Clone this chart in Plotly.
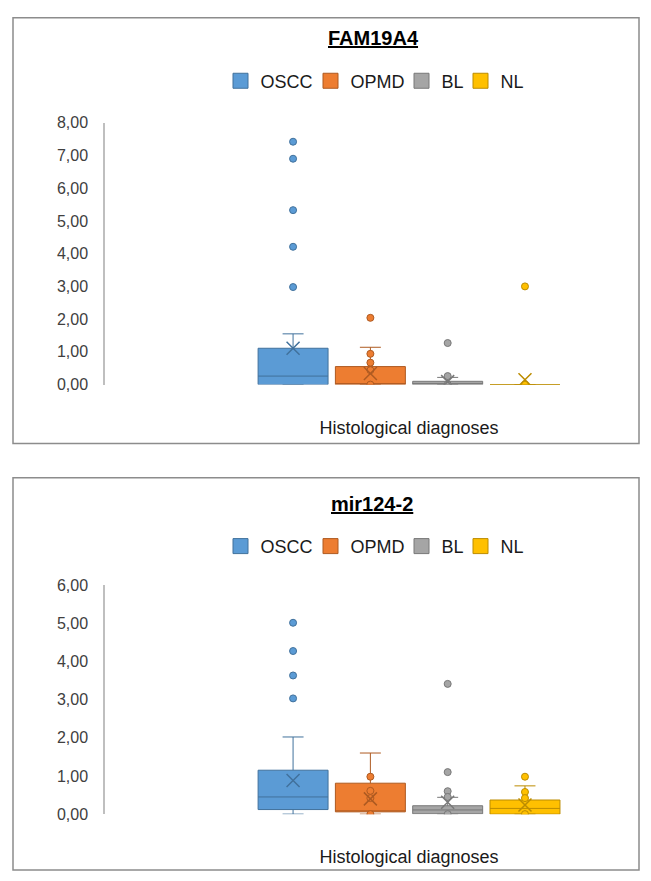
import plotly.graph_objects as go

# ---------------- data ----------------
categories = ["OSCC", "OPMD", "BL", "NL"]
fills = ["#5B9BD5", "#ED7D31", "#A5A5A5", "#FFC000"]
edges = ["#41719C", "#AE5A21", "#787878", "#BC8C00"]
legend_widths = [45, 46, 14, 23]
y_ticks = [0, 1, 2, 3, 4, 5, 6, 7, 8]
x_label = "Histological diagnoses"

# FAM19A4 panel
fam_q1 = [0.00, 0.00, 0.00, 0.00]
fam_median = [0.26, 0.02, 0.02, 0.00]
fam_q3 = [1.11, 0.55, 0.10, 0.00]
fam_lower = [0.00, 0.00, 0.00, 0.00]
fam_upper = [1.55, 1.14, 0.22, 0.00]
fam_mean = [1.11, 0.34, 0.09, 0.15]
fam_points = [
    [2.98, 4.21, 5.33, 6.90, 7.42],
    [2.04, 0.94, 0.67, 0.44, 0.00],
    [1.27, 0.26, 0.00],
    [3.00, 0.00],
]

# mir124-2 panel
mir_q1 = [0.12, 0.06, 0.01, 0.00]
mir_median = [0.45, 0.08, 0.11, 0.15]
mir_q3 = [1.15, 0.81, 0.22, 0.37]
mir_lower = [0.00, 0.00, 0.00, 0.00]
mir_upper = [2.02, 1.60, 0.44, 0.74]
mir_mean = [0.88, 0.40, 0.31, 0.24]
mir_points = [
    [3.03, 3.63, 4.27, 5.01],
    [0.98, 0.61, 0.42, 0.00],
    [3.41, 1.10, 0.60, 0.45, 0.00],
    [0.98, 0.58, 0.42, 0.00],
]

panels = [
    dict(title="FAM19A4", q1=fam_q1, med=fam_median, q3=fam_q3, lo=fam_lower,
         hi=fam_upper, mean=fam_mean, pts=fam_points,
         xa="x", ya="y", legend="legend"),
    dict(title="mir124-2", q1=mir_q1, med=mir_median, q3=mir_q3, lo=mir_lower,
         hi=mir_upper, mean=mir_mean, pts=mir_points,
         xa="x2", ya="y2", legend="legend2"),
]

W, H = 651, 881
FONT = "Liberation Sans, Arial, sans-serif"

fig = go.Figure()
for p in panels:
    for i, cat in enumerate(categories):
        fig.add_trace(go.Box(
            name=cat, x=[i], q1=[p["q1"][i]], median=[p["med"][i]], q3=[p["q3"][i]],
            lowerfence=[p["lo"][i]], upperfence=[p["hi"][i]],
            width=0.905, whiskerwidth=0.3, boxpoints=False,
            fillcolor=fills[i], line=dict(color=edges[i], width=1),
            xaxis=p["xa"], yaxis=p["ya"], showlegend=False,
            hoverinfo="skip",
        ))
    for i, cat in enumerate(categories):
        fig.add_trace(go.Scatter(
            x=[i] * len(p["pts"][i]), y=p["pts"][i], mode="markers",
            marker=dict(size=7, color=fills[i], line=dict(color=edges[i], width=1)),
            xaxis=p["xa"], yaxis=p["ya"], showlegend=False, hoverinfo="skip",
        ))
        fig.add_trace(go.Scatter(
            x=[i], y=[p["mean"][i]], mode="markers",
            marker=dict(symbol="x-thin", size=13, line=dict(color=edges[i], width=1.5)),
            xaxis=p["xa"], yaxis=p["ya"], showlegend=False, hoverinfo="skip",
        ))
    # legend entries (square swatches like the original)
    for i, cat in enumerate(categories):
        fig.add_trace(go.Scatter(
            name=cat, x=[None], y=[None], mode="markers",
            marker=dict(symbol="square", size=15, color=fills[i],
                        line=dict(color=edges[i], width=1)),
            xaxis=p["xa"], yaxis=p["ya"], legend=p["legend"], showlegend=True,
            legendwidth=legend_widths[i], hoverinfo="skip",
        ))

def py(px):
    return 1 - px / H

xdom = [105 / W, 639 / W]
xrange_ = [-2.433, 4.475]
axis_common_x = dict(domain=xdom, range=xrange_, showgrid=False, zeroline=False,
                     showline=False, ticks="", tickvals=[1.5], ticktext=[x_label],
                     tickfont=dict(family=FONT, size=18, color="#1a1a1a"),
                     ticklabelstandoff=30, fixedrange=True)
axis_common_y = dict(showgrid=False, zeroline=False, showline=True, linecolor="#BFBFBF",
                     linewidth=1.5, ticks="", tickformat=".2f",
                     tickfont=dict(family=FONT, size=16, color="#404040"),
                     ticklabelstandoff=12, fixedrange=True)

legend_common = dict(orientation="h", xanchor="left", yanchor="middle",
                     font=dict(family=FONT, size=18, color="#1a1a1a"), itemwidth=30,
                     bgcolor="rgba(0,0,0,0)", traceorder="normal", itemclick=False,
                     itemdoubleclick=False, borderwidth=0)

fig.update_layout(
    width=W, height=H, margin=dict(l=0, r=0, t=0, b=0),
    paper_bgcolor="white", plot_bgcolor="white", separators=",.",
    font=dict(family=FONT),
    xaxis=dict(**axis_common_x, anchor="y"),
    yaxis=dict(**axis_common_y, domain=[py(384), py(117)], range=[0, 8],
               tickvals=y_ticks, anchor="x"),
    xaxis2=dict(**axis_common_x, anchor="y2"),
    yaxis2=dict(**axis_common_y, domain=[py(822), py(588.3)], range=[0, 6],
                tickvals=y_ticks[:7], anchor="x2"),
    legend=dict(**legend_common, x=220.5 / W, y=py(74.5)),
    legend2=dict(**legend_common, x=220.5 / W, y=py(549)),
    shapes=[
        dict(type="rect", xref="paper", yref="paper", x0=13 / W, x1=639 / W,
             y0=py(444), y1=py(10), line=dict(color="#8C8C8C", width=1.5)),
        dict(type="rect", xref="paper", yref="paper", x0=13 / W, x1=639 / W,
             y0=py(879), y1=py(479), line=dict(color="#8C8C8C", width=1.5)),
    ],
    annotations=[
        dict(text="<b><u>FAM19A4</u></b>", xref="paper", yref="paper", x=373 / W, y=py(31),
             xanchor="center", yanchor="middle", showarrow=False,
             font=dict(family=FONT, size=20, color="black")),
        dict(text="<b><u>mir124-2</u></b>", xref="paper", yref="paper", x=372 / W, y=py(506),
             xanchor="center", yanchor="middle", showarrow=False,
             font=dict(family=FONT, size=20, color="black")),
    ],
)

fig.write_html("out.html")
